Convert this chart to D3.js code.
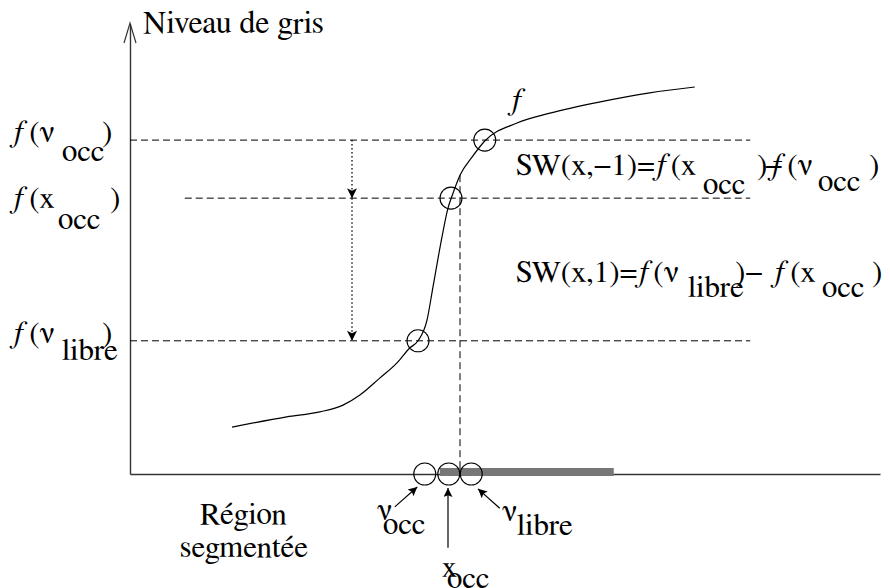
<!DOCTYPE html>
<html><head><meta charset="utf-8">
<script src="https://cdn.jsdelivr.net/npm/d3@7"></script>
</head><body style="margin:0">
<svg id="c" width="890" height="588" style="display:block;background:#fff;font-family:FreeSerif,'Liberation Serif','Times New Roman'"></svg>
<script>
// ---- data (abstract units: position 0..100, grey level 0..100) ----
const curvePos  = [13.6,20.9,25.3,28.4,30.7,33.3,35.6,37.3,38.4,39.6,40.4,41.6,42.4,42.9,44.0,45.6,47.3,51.6,56.0,62.7,69.3,75.3];
const curveGrey = [10.4,12.7,13.8,15.3,17.6,21.3,24.7,28.0,29.6,34.2,41.6,52.7,59.1,61.6,66.4,70.4,74.0,78.0,80.2,82.7,84.7,86.0];
const levelNames = ["f(ν_occ)", "f(x_occ)", "f(ν_libre)"];
const levelGrey  = [74.2, 61.3, 29.6];
const levelStart = [0, 7.3, 0];
const levelEnd   = [82.7, 82.7, 82.7];
const curveMarkPos = [47.3, 42.8, 38.4];
const axisPointNames = ["ν_occ", "x_occ", "ν_libre"];
const axisPointPos   = [39.3, 42.5, 45.5];
const regionStart = 41.3, regionEnd = 64.5;
const dropPos = 44.0, dropTop = 66.4;
const transferPos = 29.6;
// pointer arrows under the axis: [fromPos, fromGrey, toPos, toGrey]
const pointerArrows = [[35.3,-7.3,38.3,-2.9],[42.4,-16.4,42.4,-3.1],[49.3,-7.6,46.4,-3.3]];

const FONT = "FreeSerif, 'Liberation Serif', 'Times New Roman'";
const FS = 31;

// ---- drawing ----
const svg = d3.select("#c");
const x = d3.scaleLinear().domain([0,100]).range([130,880]);
const y = d3.scaleLinear().domain([0,100]).range([474,24]);

const defs = svg.append("defs");
defs.append("marker").attr("id","head").attr("viewBox","0 0 10 10")
  .attr("refX",10).attr("refY",5).attr("markerUnits","userSpaceOnUse")
  .attr("markerWidth",12).attr("markerHeight",10).attr("orient","auto")
  .append("path").attr("d","M0,0 L10,5 L0,10 L2.5,5 z").attr("fill","#000");
defs.append("marker").attr("id","head2").attr("viewBox","0 0 10 10")
  .attr("refX",10).attr("refY",5).attr("markerUnits","userSpaceOnUse")
  .attr("markerWidth",11).attr("markerHeight",9).attr("orient","auto")
  .append("path").attr("d","M0,0 L10,5 L0,10 L2,5 z").attr("fill","#000");

// axes (no ticks)
const yAxis = svg.append("g").attr("transform",`translate(${x(0)},0)`)
  .call(d3.axisLeft(y).ticks(0).tickSizeOuter(0));
yAxis.select(".domain").attr("stroke","#333").attr("stroke-width",1.4);
const xAxis = svg.append("g").attr("transform",`translate(0,${y(0)})`)
  .call(d3.axisBottom(x).ticks(0).tickSizeOuter(0));
xAxis.select(".domain").attr("stroke","#333").attr("stroke-width",1.4);
// open arrow tip on y axis
svg.append("path")
  .attr("d",`M${x(0)-6},${y(100)+19} L${x(0)},${y(100)-1} L${x(0)+6},${y(100)+19}`)
  .attr("fill","none").attr("stroke","#333").attr("stroke-width",1.2);

// segmented region bar
svg.append("rect").attr("x",x(regionStart)).attr("y",y(0)-6)
  .attr("width",x(regionEnd)-x(regionStart)).attr("height",8).attr("fill","#777");

// dashed levels
svg.selectAll("line.level").data(levelGrey).join("line").attr("class","level")
  .attr("x1",(d,i)=>x(levelStart[i])).attr("x2",(d,i)=>x(levelEnd[i]))
  .attr("y1",d=>y(d)).attr("y2",d=>y(d))
  .attr("stroke","#000").attr("stroke-width",1).attr("stroke-dasharray","7,4");
// vertical drop from x_occ
svg.append("line").attr("x1",x(dropPos)).attr("x2",x(dropPos))
  .attr("y1",y(dropTop)).attr("y2",y(0))
  .attr("stroke","#000").attr("stroke-width",1).attr("stroke-dasharray","7,4");

// dotted transfer arrows
[[levelGrey[0],levelGrey[1]],[levelGrey[1],levelGrey[2]]].forEach(([a,b])=>{
  svg.append("line").attr("x1",x(transferPos)).attr("x2",x(transferPos))
    .attr("y1",y(a)).attr("y2",y(b))
    .attr("stroke","#000").attr("stroke-width",1.3).attr("stroke-dasharray","1.5,2.5")
    .attr("marker-end","url(#head)");
});

// curve f
const pts = curvePos.map((p,i)=>[p,curveGrey[i]]);
svg.append("path").datum(pts)
  .attr("d",d3.line().x(d=>x(d[0])).y(d=>y(d[1])).curve(d3.curveMonotoneX))
  .attr("fill","none").attr("stroke","#000").attr("stroke-width",1.2);

// circles on curve
svg.selectAll("circle.cm").data(curveMarkPos).join("circle").attr("class","cm")
  .attr("cx",d=>x(d)).attr("cy",(d,i)=>y(levelGrey[i])).attr("r",11)
  .attr("fill","none").attr("stroke","#000").attr("stroke-width",1.1);
// circles on axis
svg.selectAll("circle.ap").data(axisPointPos).join("circle").attr("class","ap")
  .attr("cx",d=>x(d)).attr("cy",y(0)).attr("r",11)
  .attr("fill","none").attr("stroke","#000").attr("stroke-width",1.1);

// pointer arrows
svg.selectAll("line.ptr").data(pointerArrows).join("line").attr("class","ptr")
  .attr("x1",d=>x(d[0])).attr("y1",d=>y(d[1])).attr("x2",d=>x(d[2])).attr("y2",d=>y(d[3]))
  .attr("stroke","#000").attr("stroke-width",1.2).attr("marker-end","url(#head2)");

// ---- text ----
const tg = svg.append("g").attr("class","labels").attr("font-family",FONT).style("font-family",FONT);
function base(px, py, size) {
  return tg.append("text").attr("x",px).attr("y",py)
    .attr("font-size",size||FS).attr("font-family",FONT).style("font-family",FONT).attr("fill","#000");
}
function txt(s, px, py, opts={}) {
  const t = base(px, py, opts.size);
  if (opts.italic) t.attr("font-style","italic");
  t.text(s);
  return t;
}
function fn(px, py, rest, gap=4) {
  const t = base(px, py);
  t.append("tspan").attr("font-style","italic").text("f");
  t.append("tspan").attr("dx",gap).text(rest);
}
txt("Niveau de gris", 143, 33, {size:32});
txt("f", 510, 110, {italic:true});

// left labels
fn(12,142,"(ν"); txt("occ",62,161); txt(")",102,142);
fn(12,208,"(x");  txt("occ",58,229); txt(")",110,208);
fn(12,343,"(ν"); txt("libre",62,360); txt(")",102,343);

// right formulas
{
  const t = base(516,175);
  t.append("tspan").text("SW(x,−1)=");
  t.append("tspan").attr("font-style","italic").text("f");
  t.append("tspan").attr("dx",3).text("(x");
  txt("occ",703,194); txt(")",757,175); txt("−",765,175);
  fn(770,175,"(ν"); txt("occ",818,191); txt(")",869,175);
}
{
  const t = base(516,282);
  t.append("tspan").text("SW(x,1)=");
  t.append("tspan").attr("font-style","italic").text("f");
  t.append("tspan").attr("dx",3).text("(ν");
  txt("libre",688,297); txt(")−",735,282);
  fn(773,282,"(x"); txt("occ",822,297); txt(")",872,282);
}

// bottom labels
txt("Région",200,524); txt("segmentée",180,557);
txt("ν",377,520); txt("occ",383,534);
txt("x",442,577); txt("occ",447,588);
txt("ν",502,521); txt("libre",517,535);
</script>
</body></html>
